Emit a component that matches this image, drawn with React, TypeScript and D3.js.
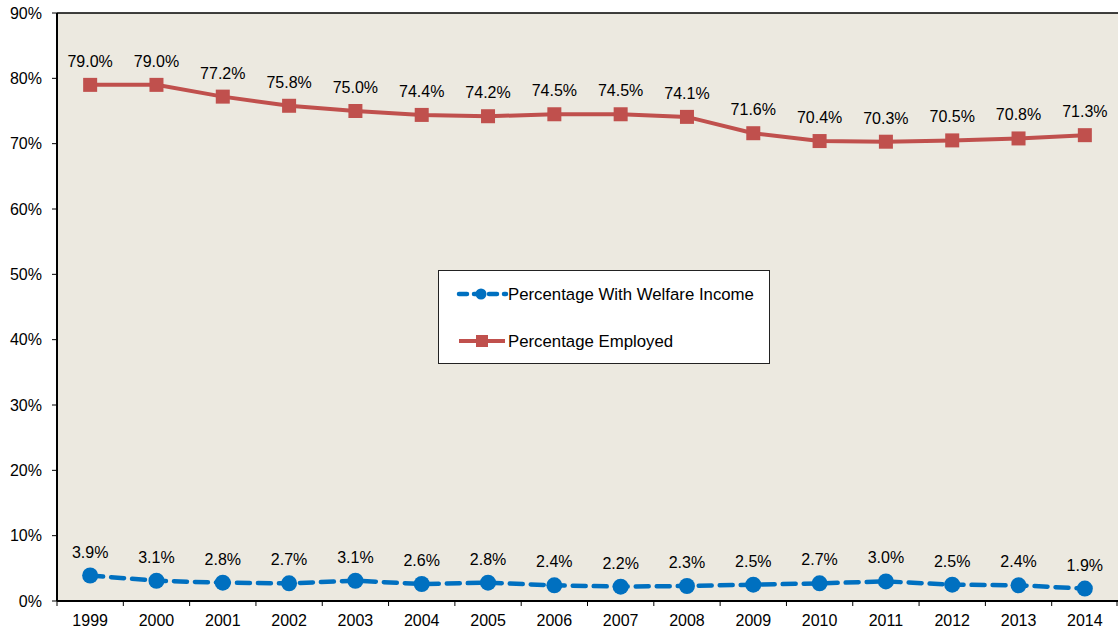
import React from "react";
import * as d3 from "d3";

const years = ["1999","2000","2001","2002","2003","2004","2005","2006","2007","2008","2009","2010","2011","2012","2013","2014"];
const employed = [79.0,79.0,77.2,75.8,75.0,74.4,74.2,74.5,74.5,74.1,71.6,70.4,70.3,70.5,70.8,71.3];
const welfare = [3.9,3.1,2.8,2.7,3.1,2.6,2.8,2.4,2.2,2.3,2.5,2.7,3.0,2.5,2.4,1.9];
const yTicks = [0,10,20,30,40,50,60,70,80,90];

const W = 1118, H = 635;
const L = 57, R = 1118, T = 13, B = 601;
const RED = "#C0504D", BLUE = "#0070C0";
const FONT = "Arial, 'Liberation Sans', sans-serif";

export default function App() {
  const x = d3.scaleBand<string>().domain(years).range([L, R]);
  const y = d3.scaleLinear().domain([0, 90]).range([B, T]);
  const cx = (yr: string) => (x(yr) as number) + x.bandwidth() / 2;
  const line = d3.line<number>().x((_, i) => cx(years[i])).y(d => y(d));
  return (
    <svg width={W} height={H} style={{ position: "absolute", left: 0, top: 0, fontFamily: FONT }}>
      <rect x={0} y={0} width={W} height={H} fill="#fff" />
      <rect x={L} y={T} width={R - L} height={B - T} fill="#ECE9E0" />
      <line x1={L} x2={R} y1={T} y2={T} stroke="#000" strokeWidth={1.5} />
      <line x1={L} x2={L} y1={T} y2={B} stroke="#000" strokeWidth={2} />
      <line x1={L} x2={R} y1={B} y2={B} stroke="#000" strokeWidth={2} />
      {yTicks.map(t => (
        <g key={t}>
          <line x1={L - 5} x2={L} y1={y(t)} y2={y(t)} stroke="#000" />
          <text x={42} y={y(t) + 5.5} textAnchor="end" fontSize={16} fill="#000">{t}%</text>
        </g>
      ))}
      {years.map((yr, i) => (
        <g key={yr}>
          <line x1={x(yr) as number} x2={x(yr) as number} y1={B} y2={B + 5} stroke="#000" />
          <text x={cx(yr)} y={626} textAnchor="middle" fontSize={16} fill="#000">{yr}</text>
        </g>
      ))}
      <line x1={R - 1} x2={R - 1} y1={B} y2={B + 5} stroke="#000" />
      <path d={line(employed) || ""} fill="none" stroke={RED} strokeWidth={4} />
      {employed.map((v, i) => (
        <g key={i}>
          <rect x={cx(years[i]) - 7} y={y(v) - 7} width={14} height={14} fill={RED} />
          <text x={cx(years[i])} y={y(v) - 18} textAnchor="middle" fontSize={16} fill="#000">{v.toFixed(1)}%</text>
        </g>
      ))}
      <path d={line(welfare) || ""} fill="none" stroke={BLUE} strokeWidth={4.5} strokeDasharray="13,8" strokeLinecap="round" />
      {welfare.map((v, i) => (
        <g key={i}>
          <circle cx={cx(years[i])} cy={y(v)} r={8} fill={BLUE} />
          <text x={cx(years[i])} y={y(v) - 18} textAnchor="middle" fontSize={16} fill="#000">{v.toFixed(1)}%</text>
        </g>
      ))}
      <rect x={438.5} y={270.5} width={331} height={93} fill="#fff" stroke="#222" strokeWidth={1} />
      <line x1={459} x2={506} y1={294} y2={294} stroke={BLUE} strokeWidth={4.5} strokeDasharray="8,7" strokeLinecap="round" />
      <circle cx={481} cy={294} r={5.5} fill={BLUE} />
      <text x={508} y={300} fontSize={16.8} fill="#000">Percentage With Welfare Income</text>
      <line x1={459} x2={505} y1={341} y2={341} stroke={RED} strokeWidth={4} />
      <rect x={476} y={335} width={12} height={12} fill={RED} />
      <text x={508} y={347} fontSize={16.8} fill="#000">Percentage Employed</text>
    </svg>
  );
}
